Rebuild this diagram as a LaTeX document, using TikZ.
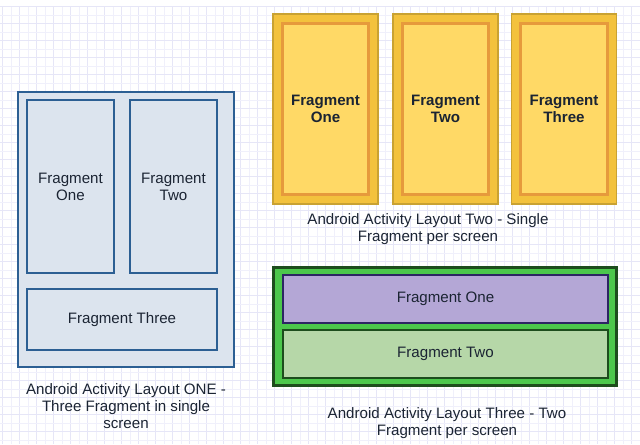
\documentclass[tikz,border=0pt]{standalone}
\usepackage{fontspec}
\setmainfont{Liberation Sans}
\usepackage{tikz}
\usetikzlibrary{positioning, backgrounds}
\usepackage{xcolor}
\definecolor{gridminor}{HTML}{F0F0FB}
\definecolor{gridmajor}{HTML}{E6E6F7}
\definecolor{inkdark}{HTML}{1B2433}
\definecolor{bluefill}{HTML}{DCE4EE}
\definecolor{bluedraw}{HTML}{2C5F93}
\definecolor{yellowout}{HTML}{F3C23D}
\definecolor{yellowrim}{HTML}{C9A232}
\definecolor{yellowin}{HTML}{FFD966}
\definecolor{orangerim}{HTML}{E69A3C}
\definecolor{greenout}{HTML}{4CC74C}
\definecolor{greendark}{HTML}{1D4D1D}
\definecolor{purplefill}{HTML}{B4A7D6}
\definecolor{purpledraw}{HTML}{2D2563}
\definecolor{greenlight}{HTML}{B6D7A8}
\newcommand{\capfont}{\fontsize{8.6}{9.7}\selectfont}
\tikzset{
  activity/.style={
    rectangle, draw=bluedraw, line width=1.1pt, fill=bluefill,
    minimum width=4.32cm, minimum height=5.5cm
  },
  bluefrag/.style={
    rectangle, draw=bluedraw, line width=1.1pt, fill=bluefill,
    minimum width=1.74cm, minimum height=3.46cm,
    align=center, font=\capfont, text=inkdark
  },
  screen/.style={
    rectangle, draw=yellowrim, line width=0.6pt, fill=yellowout,
    minimum width=2.1cm, minimum height=3.8cm
  },
  yellowfrag/.style={
    rectangle, draw=orangerim, line width=1.7pt, fill=yellowin,
    minimum width=1.74cm, minimum height=3.44cm,
    align=center, font=\capfont\bfseries, text=inkdark
  },
  twopane/.style={
    rectangle, draw=greendark, line width=1.2pt, fill=greenout,
    minimum width=6.86cm, minimum height=2.36cm
  },
  widefrag/.style={
    rectangle, line width=1.4pt,
    minimum width=6.5cm, minimum height=0.96cm,
    font=\capfont, text=inkdark
  },
  caption/.style={
    align=center, font=\capfont, text=inkdark, inner sep=0pt
  }
}
\begin{document}
\begin{tikzpicture}[x=0.02cm, y=-0.02cm]
  \useasboundingbox (0,0) rectangle (640,444);
  % background grid
  \fill[white] (0,0) rectangle (640,444);
  \foreach \gx in {0,...,75} {
    \pgfmathsetmacro{\px}{2.7+8.5*\gx}
    \ifodd\gx
      \draw[gridminor, line width=0.5pt] (\px,6.7) -- (\px,444);
    \else
      \draw[gridmajor, line width=0.5pt] (\px,6.7) -- (\px,444);
    \fi
  }
  \foreach \gy in {0,...,51} {
    \pgfmathsetmacro{\py}{6.7+8.5*\gy}
    \ifodd\gy
      \draw[gridminor, line width=0.5pt] (0,\py) -- (640,\py);
    \else
      \draw[gridmajor, line width=0.5pt] (0,\py) -- (640,\py);
    \fi
  }

  % layout one
  \node[activity] (one) at (126,229.5) {};
  \node[bluefrag] (oneA) at (70.5,186.5) {Fragment\\One};
  \node[bluefrag] (oneB) at (173.5,186.5) {Fragment\\Two};
  \node[bluefrag, minimum width=3.8cm, minimum height=1.22cm] (oneC) at (122,319.5) {Fragment Three};
  \node[caption] (oneCap) at (126,406) {Android Activity Layout ONE -\\Three Fragment in single\\screen};

  % layout two
  \node[screen] (twoA) at (325.5,109) {};
  \node[screen] (twoB) at (445.5,109) {};
  \node[screen] (twoC) at (564,109) {};
  \node[yellowfrag] (fragA) at (twoA) {Fragment\\One};
  \node[yellowfrag] (fragB) at (twoB) {Fragment\\Two};
  \node[yellowfrag] (fragC) at (twoC) {Fragment\\Three};
  \node[caption] (twoCap) at (428,229.5) {Android Activity Layout Two - Single\\Fragment per screen};

  % layout three
  \node[twopane] (three) at (445,326.5) {};
  \node[widefrag, draw=purpledraw, fill=purplefill] (threeA) at (445.5,299) {Fragment One};
  \node[widefrag, draw=greendark, fill=greenlight] (threeB) at (445.5,354) {Fragment Two};
  \node[caption] (threeCap) at (447,423.5) {Android Activity Layout Three - Two\\Fragment per screen};
\end{tikzpicture}
\end{document}
